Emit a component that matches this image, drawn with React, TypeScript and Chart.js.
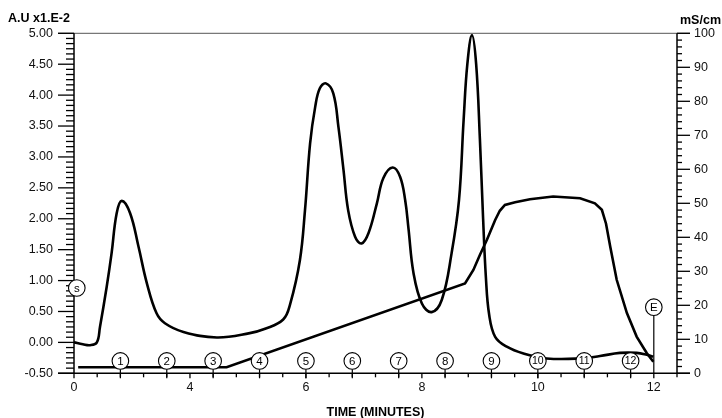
import React, { useEffect, useRef } from "react";
import { Chart, registerables } from "chart.js";

Chart.register(...registerables);

// Absorbance (A.U x1.E-2), left axis
const ABS_X = [0, 0.19, 0.345, 0.49, 0.56, 0.705, 0.81, 0.92, 1.03, 1.21, 1.39, 1.57, 1.78, 1.96, 2.36, 3.08, 3.79, 4.12, 4.51, 4.66, 4.87, 4.98, 5.09, 5.2, 5.3, 5.43, 5.59, 5.7, 5.81, 5.91, 6.06, 6.2, 6.35, 6.53, 6.67, 6.87, 7.03, 7.14, 7.21, 7.32, 7.5, 7.71, 7.93, 8.14, 8.3, 8.4, 8.48, 8.58, 8.67, 8.75, 8.82, 8.88, 8.95, 9.08, 9.33, 9.69, 10.19, 10.91, 11.34, 11.77, 12.13, 12.35, 12.49];
const ABS_Y = [0.0, -0.03, -0.045, -0.005, 0.25, 0.9, 1.44, 2.09, 2.29, 2.09, 1.55, 0.96, 0.47, 0.31, 0.17, 0.08, 0.15, 0.22, 0.37, 0.62, 1.33, 2.14, 3.22, 3.81, 4.11, 4.19, 4.03, 3.49, 2.79, 2.14, 1.71, 1.6, 1.77, 2.25, 2.66, 2.83, 2.68, 2.3, 1.85, 1.12, 0.63, 0.49, 0.69, 1.44, 2.3, 3.6, 4.5, 4.97, 4.5, 3.3, 2.0, 1.05, 0.45, 0.09, -0.07, -0.18, -0.26, -0.26, -0.22, -0.17, -0.17, -0.2, -0.23];

// Conductivity (mS/cm), right axis
const COND_X = [0.09, 3.29, 8.43, 8.61, 8.75, 8.9, 9.08, 9.18, 9.29, 9.51, 9.83, 10.33, 10.91, 11.23, 11.38, 11.47, 11.56, 11.7, 11.92, 12.13, 12.35, 12.49];
const COND_Y = [1.8, 1.8, 26.4, 30.4, 34.8, 39.2, 45.1, 47.8, 49.5, 50.3, 51.2, 52.0, 51.5, 50.0, 48.1, 44.0, 37.3, 27.5, 17.7, 10.8, 5.9, 3.4];

// Axis tick labels
const X_TICK_POS = [0, 2.5, 5, 7.5, 10, 12.5];
const X_TICK_LABELS = ["0", "4", "6", "8", "10", "12"];

// Fraction markers
const FRACTION_X = [1, 2, 3, 4, 5, 6, 7, 8, 9, 10, 11, 12];
const FRACTION_LABELS = ["1", "2", "3", "4", "5", "6", "7", "8", "9", "10", "11", "12"];
const FRACTION_Y = -0.3;
const START_MARK = { x: 0.06, y: 0.88, label: "s" };
const END_MARK = { x: 12.5, y: 0.57, label: "E" };

const TITLE_LEFT = "A.U x1.E-2";
const TITLE_RIGHT = "mS/cm";
const TITLE_X = "TIME (MINUTES)";

const FONT = '"Liberation Sans", Arial, Helvetica, sans-serif';

const decoPlugin = {
  id: "deco",
  afterDatasetsDraw(chart: any) {
    const { ctx, chartArea, scales } = chart;
    const { left, right, top, bottom } = chartArea;
    const x = scales.x, y = scales.y, y1 = scales.y1;
    const line = (x1: number, yA: number, x2: number, yB: number) => {
      ctx.beginPath();
      ctx.moveTo(x1, yA);
      ctx.lineTo(x2, yB);
      ctx.stroke();
    };
    ctx.save();
    // top border
    ctx.strokeStyle = "#555";
    ctx.lineWidth = 1;
    line(left - 16, top, right + 13, top);
    // axes
    ctx.strokeStyle = "#000";
    ctx.lineWidth = 1.5;
    line(left, top, left, bottom);
    line(right, top, right, bottom);
    line(left - 16, bottom, right + 13, bottom);
    ctx.lineWidth = 1.3;
    // left ticks
    for (let i = 0; i <= 66; i++) {
      const v = -0.5 + (i * 0.5) / 6;
      const py = y.getPixelForValue(v);
      const major = i % 6 === 0;
      line(major ? left - 16 : left - 8, py, left, py);
    }
    // right ticks
    for (let v = 0; v <= 100; v += 2) {
      const py = y1.getPixelForValue(v);
      const major = v % 10 === 0;
      line(right, py, major ? right + 13 : right + 5, py);
    }
    // x ticks
    for (let i = 0; i <= 26; i++) {
      const v = i * 0.5;
      const px = x.getPixelForValue(v);
      const major = X_TICK_POS.indexOf(v) >= 0;
      line(px, bottom, px, bottom + (major ? 5 : 4));
    }
    // markers
    const r = 8.3;
    const circle = (cx: number, cy: number, label: string) => {
      ctx.lineWidth = 1.1;
      ctx.fillStyle = "#fff";
      ctx.beginPath();
      ctx.arc(cx, cy, r, 0, Math.PI * 2);
      ctx.fill();
      ctx.stroke();
      ctx.fillStyle = "#000";
      ctx.font = `${label.length > 1 ? 10.5 : 11.5}px ${FONT}`;
      ctx.textAlign = "center";
      ctx.textBaseline = "middle";
      ctx.fillText(label, cx, cy + 0.5);
    };
    FRACTION_X.forEach((fx, i) => {
      const px = x.getPixelForValue(fx);
      const py = y.getPixelForValue(FRACTION_Y);
      ctx.lineWidth = 1.2;
      line(px, py + r, px, bottom + 5);
      circle(px, py, FRACTION_LABELS[i]);
    });
    {
      const px = x.getPixelForValue(END_MARK.x);
      const py = y.getPixelForValue(END_MARK.y);
      ctx.lineWidth = 1.2;
      line(px, py + r, px, bottom);
      circle(px, py, END_MARK.label);
    }
    {
      const px = x.getPixelForValue(START_MARK.x);
      const py = y.getPixelForValue(START_MARK.y);
      circle(px, py, START_MARK.label);
    }
    // titles
    ctx.fillStyle = "#000";
    ctx.font = `bold 12.5px ${FONT}`;
    ctx.textBaseline = "alphabetic";
    ctx.textAlign = "left";
    ctx.fillText(TITLE_LEFT, 8, 22);
    ctx.fillText(TITLE_RIGHT, right + 3, 24);
    ctx.textAlign = "center";
    ctx.fillText(TITLE_X, (left + right) / 2, 416);
    ctx.restore();
  },
};

export default function App() {
  const ref = useRef<HTMLCanvasElement | null>(null);
  useEffect(() => {
    const canvas = ref.current;
    if (!canvas) return;
    const absData = ABS_X.map((v, i) => ({ x: v, y: ABS_Y[i] }));
    const condData = COND_X.map((v, i) => ({ x: v, y: COND_Y[i] }));
    const chart = new Chart(canvas, {
      type: "line",
      data: {
        datasets: [
          {
            label: "Absorbance",
            data: absData,
            yAxisID: "y",
            borderColor: "#000",
            borderWidth: 2.6,
            pointRadius: 0,
            tension: 0.4,
            fill: false,
          },
          {
            label: "Conductivity",
            data: condData,
            yAxisID: "y1",
            borderColor: "#000",
            borderWidth: 2.6,
            pointRadius: 0,
            tension: 0,
            fill: false,
          },
        ],
      },
      options: {
        responsive: false,
        animation: false,
        events: [],
        layout: { padding: { top: 33.3, left: 0, right: 0, bottom: 0 } },
        plugins: { legend: { display: false }, tooltip: { enabled: false } },
        scales: {
          x: {
            type: "linear",
            min: 0,
            max: 13,
            afterBuildTicks: (s: any) => {
              s.ticks = X_TICK_POS.map((v) => ({ value: v }));
            },
            afterFit: (s: any) => {
              s.height = 418 - 373.3;
            },
            grid: { display: true, drawOnChartArea: false, drawTicks: false, color: "transparent" },
            border: { display: false },
            ticks: {
              autoSkip: false,
              maxRotation: 0,
              padding: 7,
              color: "#111",
              font: { family: FONT, size: 12.5 },
              callback: (_v: any, i: number) => X_TICK_LABELS[i],
            },
          },
          y: {
            position: "left",
            min: -0.5,
            max: 5,
            afterFit: (s: any) => {
              s.width = 74;
            },
            grid: { display: true, drawOnChartArea: false, drawTicks: false, color: "transparent" },
            border: { display: false },
            ticks: {
              stepSize: 0.5,
              padding: 21,
              color: "#111",
              font: { family: FONT, size: 12.5 },
              callback: (v: any) => Number(v).toFixed(2),
            },
          },
          y1: {
            position: "right",
            min: 0,
            max: 100,
            afterFit: (s: any) => {
              s.width = 722 - 677;
            },
            grid: { display: true, drawOnChartArea: false, drawTicks: false, color: "transparent" },
            border: { display: false },
            ticks: {
              stepSize: 10,
              padding: 17,
              color: "#111",
              font: { family: FONT, size: 12.5 },
            },
          },
        },
      },
      plugins: [decoPlugin],
    } as any);
    return () => chart.destroy();
  }, []);
  return (
    <div style={{ position: "fixed", left: 0, top: 0, width: 722, height: 418, background: "#fff" }}>
      <canvas ref={ref} width={722} height={418} style={{ display: "block", width: 722, height: 418 }} />
    </div>
  );
}
